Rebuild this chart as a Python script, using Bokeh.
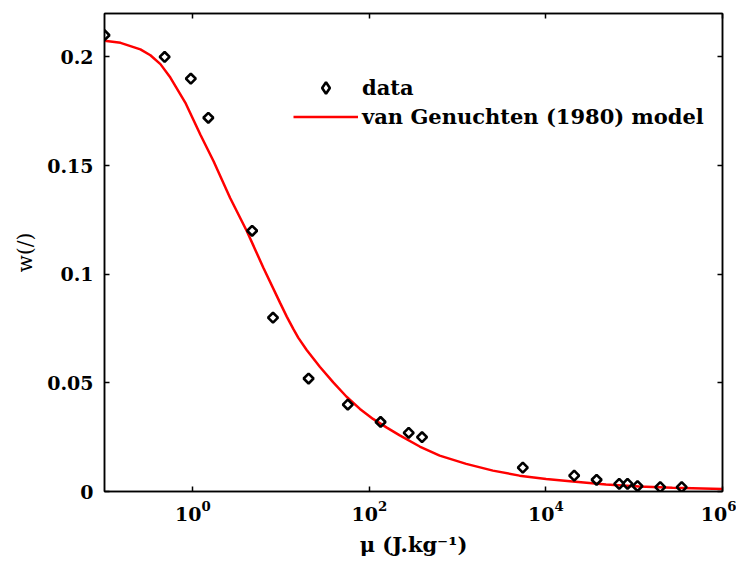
import math
from bokeh.plotting import figure
from bokeh.models import (LogAxis, LinearAxis, FixedTicker, Legend, LegendItem,
                          Range1d)
from bokeh.embed import file_html
from bokeh.resources import INLINE

# measured data (chemical potential mu, water content w)
mu_data = [0.1, 0.48, 0.95, 1.5, 4.7, 8.1, 20.5, 57, 134, 279, 395,
           5470, 20900, 37500, 67600, 84000, 109000, 197000, 345000]
w_data = [0.210, 0.200, 0.190, 0.172, 0.120, 0.080, 0.052, 0.040, 0.032,
          0.027, 0.025, 0.011, 0.0073, 0.0054, 0.0035, 0.0035, 0.0025,
          0.002, 0.002]

# van Genuchten (1980) model curve
mu_model = [0.1, 0.152, 0.255, 0.331, 0.43, 0.557, 0.822, 1.22, 1.72, 2.65,
            4.1, 6.3, 9.75, 11.6, 13.8, 15.7, 19.5, 27.6, 39, 55.2, 78.2,
            110, 156, 221, 372, 626, 1250, 2510, 5020, 10050, 20100, 47900,
            114000, 271000, 1000000]
w_model = [0.2075, 0.2065, 0.2035, 0.2008, 0.1967, 0.1905, 0.1790, 0.1642,
           0.152, 0.1351, 0.1198, 0.103, 0.0868, 0.0805, 0.0747, 0.0707,
           0.0651, 0.0573, 0.0502, 0.0436, 0.0380, 0.0334, 0.0295, 0.0258,
           0.0207, 0.0165, 0.0127, 0.0096, 0.0073, 0.0058, 0.0046, 0.0032,
           0.0023, 0.0017, 0.0011]

x_ticks = [1, 100, 10000, 1000000]
y_ticks = [0, 0.05, 0.1, 0.15, 0.2]
y_tick_labels = ["0", "0.05", "0.1", "0.15", "0.2"]

FONT = "DejaVu Serif"

p = figure(width=736, height=562, x_axis_type="log",
           x_range=(0.1, 1e6), y_range=(0, 0.22),
           output_backend="svg", toolbar_location=None,
           min_border_left=104, min_border_right=14,
           min_border_top=13, min_border_bottom=71)
p.xgrid.visible = False
p.ygrid.visible = False
p.outline_line_color = "black"
p.outline_line_width = 1.5
p.background_fill_color = "white"
p.border_fill_color = "white"
# a range that keeps the legend-key symbol out of the plotting area
p.extra_y_ranges = {"key": Range1d(1, 2)}

ln = p.line(mu_model, w_model, line_color="#ff0000", line_width=2.5)
sc = p.scatter(mu_data, w_data, marker="square", angle=math.pi / 4, size=7,
               line_color="black", line_width=2.6, fill_color=None)
# legend key symbol (diamond shape; its point falls outside the visible frame)
sc_key = p.scatter(mu_data[:1], w_data[:1], y_range_name="key",
                   marker="diamond", size=13,
                   line_color="black", line_width=2.6, fill_color=None)

# bottom x axis
xa = p.xaxis[0]
xa.ticker = FixedTicker(ticks=x_ticks, minor_ticks=[])
xa.major_tick_in = 5
xa.major_tick_out = 0
xa.minor_tick_in = 0
xa.minor_tick_out = 0
xa.axis_line_width = 1.5
xa.major_tick_line_width = 1.5
xa.major_label_text_font = FONT
xa.major_label_text_font_style = "bold"
xa.major_label_text_font_size = "19px"
xa.major_label_text_color = "black"
xa.major_label_standoff = 9
xa.axis_label = "\u03bc (J.kg\u207b\u00b9)"
xa.axis_label_text_font = FONT
xa.axis_label_text_font_style = "bold"
xa.axis_label_text_font_size = "21px"
xa.axis_label_text_color = "black"
xa.axis_label_standoff = 8

# left y axis
ya = p.yaxis[0]
ya.ticker = FixedTicker(ticks=y_ticks, minor_ticks=[])
ya.major_label_overrides = dict(zip(y_ticks, y_tick_labels))
ya.major_tick_in = 5
ya.major_tick_out = 0
ya.minor_tick_in = 0
ya.minor_tick_out = 0
ya.axis_line_width = 1.5
ya.major_tick_line_width = 1.5
ya.major_label_text_font = FONT
ya.major_label_text_font_style = "bold"
ya.major_label_text_font_size = "19px"
ya.major_label_text_color = "black"
ya.major_label_standoff = 11
ya.axis_label = "w(/)"
ya.axis_label_text_font = FONT
ya.axis_label_text_font_style = "normal"
ya.axis_label_text_font_size = "20px"
ya.axis_label_text_color = "black"
ya.axis_label_standoff = 7

# top and right axes: ticks only
top = LogAxis(ticker=FixedTicker(ticks=x_ticks, minor_ticks=[]),
              major_tick_in=5, major_tick_out=0,
              minor_tick_in=0, minor_tick_out=0,
              major_label_text_font_size="1px", major_label_text_alpha=0,
              major_label_standoff=0,
              axis_line_width=1.5, major_tick_line_width=1.5)
p.add_layout(top, "above")
right = LinearAxis(ticker=FixedTicker(ticks=y_ticks, minor_ticks=[]),
                   major_tick_in=5, major_tick_out=0,
                   minor_tick_in=0, minor_tick_out=0,
                   major_label_text_font_size="1px", major_label_text_alpha=0,
                   major_label_standoff=0,
                   axis_line_width=1.5, major_tick_line_width=1.5)
p.add_layout(right, "right")

legend = Legend(items=[LegendItem(label="data", renderers=[sc_key]),
                       LegendItem(label="van Genuchten (1980) model", renderers=[ln])],
                location=(189, 360), padding=0, margin=0, spacing=0,
                glyph_width=65, glyph_height=29, label_height=29,
                label_standoff=4,
                label_text_font=FONT, label_text_font_style="bold",
                label_text_font_size="21px", label_text_color="black",
                border_line_alpha=0, background_fill_alpha=0)
p.add_layout(legend)

open("out.html", "w").write(file_html(p, INLINE))
